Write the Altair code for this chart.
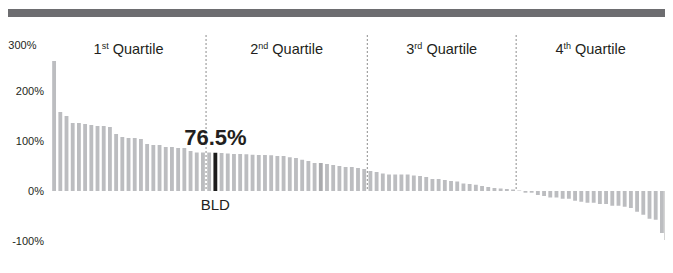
import altair as alt
import pandas as pd

# ---- data ----
bar_values = [260, 158, 150, 136, 136, 134, 132, 130, 130, 128,
              114, 108, 106, 106, 104, 94, 92, 92, 88, 88,
              86, 86, 80, 77, 77, 77, 76.5, 76, 75, 74,
              74, 73.5, 72.5, 72, 72, 71.5, 70, 70, 67.5, 66,
              62.5, 60, 56, 56, 54, 52, 50, 48, 48, 46,
              44, 40, 38, 35, 33, 33, 33, 33, 31, 30,
              28, 24, 24, 22, 20, 19, 15, 14, 12.5, 10,
              8, 6, 5, 4, 3, 1, -3.4, -3.4, -8, -10,
              -13, -13, -15.5, -15.5, -19.5, -21.5, -23.5, -23.5, -26, -26,
              -29.5, -29.5, -31.5, -34, -41.5, -47.5, -55.5, -57.5, -84]
fund_index = 26
fund_name = "BLD"
fund_label = "76.5%"
shaded_index = 43
quartile_counts = [25, 26, 24, 24]
quartile_numbers = ["1", "2", "3", "4"]
quartile_suffixes = ["st", "nd", "rd", "th"]
y_ticks = [-100, 0, 100, 200, 300]

# ---- tables ----
n = len(bar_values)
half = 0.31
kinds = []
for i in range(n):
    if i == fund_index:
        kinds.append("fund")
    elif i == shaded_index:
        kinds.append("shaded")
    else:
        kinds.append("peer")
df = pd.DataFrame({
    "idx": list(range(n)),
    "start": [i - half for i in range(n)],
    "end": [i + half for i in range(n)],
    "value": bar_values,
    "kind": kinds,
})

bounds = []
starts = []
c = 0
for q in quartile_counts:
    starts.append(c)
    c += q
    bounds.append(c - 0.5)
centers = [(s - 0.5 + b) / 2 for s, b in zip(starts, bounds)]
qdf = pd.DataFrame({"pos": bounds[:-1]})

PAD_L = 43
W, H = 614, 200
FONT = "Liberation Sans"
x_scale = alt.Scale(domain=[-0.5, n - 0.5], nice=False, zero=False)
y_scale = alt.Scale(domain=[-100, 300], nice=False, zero=False)

band = alt.Chart(pd.DataFrame({"a": [0]})).mark_rect(color="#6d6d70").encode(
    x=alt.value(-PAD_L), x2=alt.value(W), y=alt.value(-32), y2=alt.value(-24)
)

bars = alt.Chart(df).mark_bar(opacity=1).encode(
    x=alt.X("start:Q", scale=x_scale, axis=None),
    x2="end:Q",
    y=alt.Y("value:Q", scale=y_scale, title=None,
            axis=alt.Axis(values=y_ticks, labelExpr="datum.value + '%'", ticks=False,
                          domain=False, grid=False, labelFont=FONT, labelFontSize=11,
                          labelColor="#231f20",
                          labelPadding={"condition": {"test": "datum.value == 300", "value": 15}, "value": 7.5},
                          labelOffset={"condition": {"test": "datum.value == 300", "value": 4}, "value": 0})),
    y2=alt.datum(0),
    color=alt.Color("kind:N", legend=None,
                    scale=alt.Scale(domain=["peer", "shaded", "fund"],
                                    range=["#bcbdc0", "#a9aaad", "#1c1c1c"])),
)

rules = alt.Chart(qdf).mark_rule(strokeDash=[2, 2], color="#8c8c8c", strokeWidth=1).encode(
    x=alt.X("pos:Q", scale=x_scale), y=alt.datum(312), y2=alt.datum(0)
)

edge = alt.Chart(pd.DataFrame({"p": [n - 0.5]})).mark_rule(color="#a8a8a8", strokeWidth=1).encode(
    x=alt.X("p:Q", scale=x_scale), y=alt.datum(0), y2=alt.datum(-98)
)

fund_val = bar_values[fund_index]
fund_text = alt.Chart(pd.DataFrame({"x": [fund_index], "y": [fund_val], "t": [fund_label]})).mark_text(
    font=FONT, fontSize=22, fontWeight="bold", color="#231f20", baseline="alphabetic", dy=-8
).encode(x=alt.X("x:Q", scale=x_scale), y=alt.Y("y:Q", scale=y_scale), text="t:N")

fund_name_text = alt.Chart(pd.DataFrame({"x": [fund_index], "y": [0], "t": [fund_name]})).mark_text(
    font=FONT, fontSize=15, color="#231f20", baseline="top", dy=7
).encode(x=alt.X("x:Q", scale=x_scale), y=alt.Y("y:Q", scale=y_scale), text="t:N")

# quartile titles with superscript suffix
FS = 14.5
SFS = 9
char_w = {"1": .556, "2": .556, "3": .556, "4": .556, "s": .5, "t": .278, "n": .556,
          "d": .556, "r": .333, "h": .556}
quart_w = 3.501 * FS
space_w = 0.278 * FS
qlayers = []
for num, suf, cx in zip(quartile_numbers, quartile_suffixes, centers):
    nw = char_w[num] * FS
    sw = sum(char_w[ch] for ch in suf) * SFS
    total = nw + sw + space_w + quart_w
    d0 = -total / 2
    base = alt.Chart(pd.DataFrame({"x": [cx], "y": [283]}))
    enc = dict(x=alt.X("x:Q", scale=x_scale), y=alt.Y("y:Q", scale=y_scale))
    qlayers.append(base.mark_text(font=FONT, fontSize=FS, color="#231f20", align="left",
                                  baseline="middle", dx=d0, text=num).encode(**enc))
    qlayers.append(base.mark_text(font=FONT, fontSize=SFS, color="#231f20", align="left",
                                  baseline="middle", dx=d0 + nw, dy=-3.5, text=suf).encode(**enc))
    qlayers.append(base.mark_text(font=FONT, fontSize=FS, color="#231f20", align="left",
                                  baseline="middle", dx=d0 + nw + sw + space_w, text="Quartile").encode(**enc))

chart = alt.layer(band, bars, rules, edge, fund_text, fund_name_text, *qlayers).properties(
    width=W, height=H,
    autosize=alt.AutoSizeParams(type="none"),
    padding={"left": PAD_L, "top": 33, "right": 0, "bottom": 16},
).configure(background="white", view=alt.ViewConfig(stroke=None))

chart.save("out.html", embed_options={"renderer": "svg", "actions": False})
